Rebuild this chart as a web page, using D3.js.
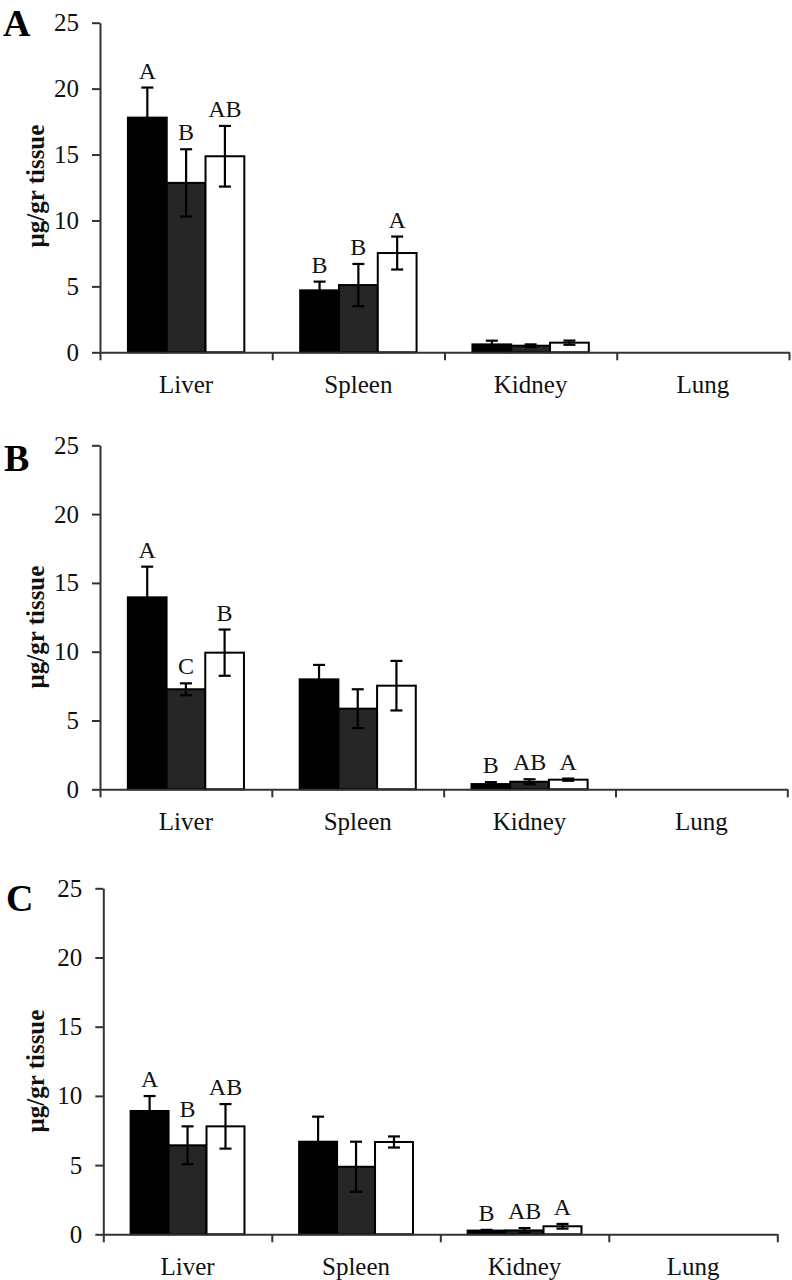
<!DOCTYPE html>
<html><head><meta charset="utf-8">
<script src="https://cdn.jsdelivr.net/npm/d3@7"></script>
<style>body{margin:0;background:#fff}svg{display:block}text{font-family:"Liberation Serif","Times New Roman",serif}</style>
</head><body>
<svg id="chart" width="792" height="1280"></svg>
<script>
// ---- data ----
const categories = ["Liver", "Spleen", "Kidney", "Lung"];
const seriesNames = ["Group 1", "Group 2", "Group 3"];
const yTicks = [0, 5, 10, 15, 20, 25];
const yLabel = "μg/gr tissue";
const panelNames = ["A", "B", "C"];

// Panel A
const aBlack = [17.8, 4.7, 0.6, 0];
const aBlackErr = [2.28, 0.66, 0.28, 0];
const aDark = [12.85, 5.1, 0.5, 0];
const aDarkErr = [2.55, 1.6, 0.1, 0];
const aWhite = [14.87, 7.53, 0.73, 0];
const aWhiteErr = [2.3, 1.25, 0.16, 0];
const aBlackLet = ["A", "B", "", ""];
const aDarkLet = ["B", "B", "", ""];
const aWhiteLet = ["AB", "A", "", ""];

// Panel B
const bBlack = [13.95, 7.99, 0.38, 0];
const bBlackErr = [2.23, 1.05, 0.14, 0];
const bDark = [7.27, 5.86, 0.55, 0];
const bDarkErr = [0.43, 1.41, 0.18, 0];
const bWhite = [9.93, 7.53, 0.7, 0];
const bWhiteErr = [1.68, 1.8, 0.08, 0];
const bBlackLet = ["A", "", "B", ""];
const bDarkLet = ["C", "", "AB", ""];
const bWhiteLet = ["B", "", "A", ""];

// Panel C
const cBlack = [8.91, 6.69, 0.27, 0];
const cBlackErr = [1.08, 1.81, 0.05, 0];
const cDark = [6.43, 4.88, 0.28, 0];
const cDarkErr = [1.37, 1.81, 0.17, 0];
const cWhite = [7.8, 6.67, 0.58, 0];
const cWhiteErr = [1.61, 0.4, 0.17, 0];
const cBlackLet = ["A", "", "B", ""];
const cDarkLet = ["B", "", "AB", ""];
const cWhiteLet = ["AB", "", "A", ""];

// ---- build ----
const panelData = [
  {means:[aBlack,aDark,aWhite], errs:[aBlackErr,aDarkErr,aWhiteErr], lets:[aBlackLet,aDarkLet,aWhiteLet]},
  {means:[bBlack,bDark,bWhite], errs:[bBlackErr,bDarkErr,bWhiteErr], lets:[bBlackLet,bDarkLet,bWhiteLet]},
  {means:[cBlack,cDark,cWhite], errs:[cBlackErr,cDarkErr,cWhiteErr], lets:[cBlackLet,cDarkLet,cWhiteLet]}
];
const layouts = [
  {left:100, right:789, top:22.7, bottom:352.3, labX:3, labY:36, titleX:35, titleY:186},
  {left:100, right:787.3, top:445.3, bottom:789.3, labX:4, labY:471, titleX:35, titleY:627},
  {left:103.3, right:777.3, top:888.3, bottom:1234.3, labX:6, labY:911, titleX:35, titleY:1071}
];
const fills = ["#000000", "#262626", "#ffffff"];
const axisColor = "#333";
const serif = '"Liberation Serif", "Times New Roman", serif';

const svg = d3.select("#chart");

panelData.forEach((pd, pi) => {
  const L = layouts[pi];
  const g = svg.append("g");
  const y = d3.scaleLinear().domain([0, 25]).range([L.bottom, L.top]);
  const x = d3.scaleBand().domain(categories).range([L.left, L.right]).padding(0);
  const xs = d3.scaleBand().domain(seriesNames).range([0, x.bandwidth()]).paddingInner(0).paddingOuter(0.72);
  const xb = d3.scaleLinear().domain([0, categories.length]).range([L.left, L.right]);

  // y axis
  const ya = g.append("g").attr("transform", `translate(${L.left},0)`)
    .call(d3.axisLeft(y).tickValues(yTicks).tickSize(8).tickSizeOuter(0).tickPadding(13));
  ya.attr("font-family", serif);
  ya.select(".domain").attr("stroke", axisColor).attr("stroke-width", 2);
  ya.selectAll(".tick line").attr("stroke", axisColor).attr("stroke-width", 2);
  ya.selectAll(".tick text").attr("font-size", 25).attr("fill", "#111")
    .style("font-family", serif);

  // bars
  pd.means.forEach((vals, si) => {
    const sname = seriesNames[si];
    const rows = categories.map((c, ci) => ({c, v: vals[ci], e: pd.errs[si][ci], l: pd.lets[si][ci]}));
    const nz = rows.filter(r => r.v > 0);
    g.selectAll(null).data(nz).enter().append("rect")
      .attr("x", r => x(r.c) + xs(sname))
      .attr("width", xs.bandwidth())
      .attr("y", r => y(r.v))
      .attr("height", r => y(0) - y(r.v))
      .attr("fill", fills[si])
      .attr("stroke", "#000").attr("stroke-width", 2);
  });
  // error bars and letters
  pd.means.forEach((vals, si) => {
    const sname = seriesNames[si];
    const rows = categories.map((c, ci) => ({c, v: vals[ci], e: pd.errs[si][ci], l: pd.lets[si][ci]}));
    const nz = rows.filter(r => r.v > 0);
    const cx = r => x(r.c) + xs(sname) + xs.bandwidth() / 2;
    const eb = g.selectAll(null).data(nz.filter(r => r.e > 0)).enter().append("g")
      .attr("stroke", "#000").attr("stroke-width", 2.2);
    eb.append("line").attr("x1", cx).attr("x2", cx)
      .attr("y1", r => y(r.v + r.e)).attr("y2", r => y(Math.max(0, r.v - r.e)));
    eb.append("line").attr("x1", r => cx(r) - 6).attr("x2", r => cx(r) + 6)
      .attr("y1", r => y(r.v + r.e)).attr("y2", r => y(r.v + r.e));
    eb.append("line").attr("x1", r => cx(r) - 6).attr("x2", r => cx(r) + 6)
      .attr("y1", r => y(Math.max(0, r.v - r.e))).attr("y2", r => y(Math.max(0, r.v - r.e)));
    g.selectAll(null).data(nz.filter(r => r.l)).enter().append("text")
      .attr("x", cx).attr("y", r => y(r.v + r.e) - 9)
      .attr("text-anchor", "middle").attr("font-size", 24).attr("fill", "#111")
      .text(r => r.l);
  });

  // x axis line with boundary ticks
  const xa = g.append("g").attr("transform", `translate(0,${L.bottom})`)
    .call(d3.axisBottom(xb).tickValues(d3.range(categories.length + 1)).tickSize(8).tickSizeOuter(0).tickFormat(""));
  xa.select(".domain").attr("stroke", axisColor).attr("stroke-width", 2);
  xa.selectAll(".tick line").attr("stroke", axisColor).attr("stroke-width", 2);

  // category labels
  g.selectAll(null).data(categories).enter().append("text")
    .attr("x", c => x(c) + x.bandwidth() / 2).attr("y", L.bottom + 41)
    .attr("text-anchor", "middle").attr("font-size", 25).attr("fill", "#111")
    .text(c => c);

  // y title
  g.append("text").attr("transform", `translate(${L.titleX},${L.titleY}) rotate(-90)`)
    .attr("text-anchor", "middle").attr("dy", "0.35em")
    .attr("font-size", 25).attr("font-weight", "bold").attr("fill", "#111")
    .text(yLabel);

  // panel letter
  g.append("text").attr("x", L.labX).attr("y", L.labY)
    .attr("font-size", 38).attr("font-weight", "bold").attr("fill", "#000")
    .text(panelNames[pi]);
});
</script>
</body></html>
